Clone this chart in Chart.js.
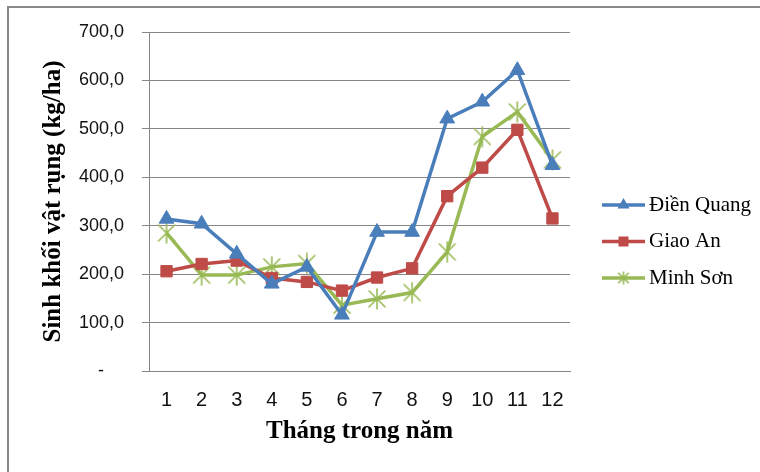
<!DOCTYPE html>
<html>
<head>
<meta charset="utf-8">
<script src="https://cdn.jsdelivr.net/npm/chart.js@4/dist/chart.umd.min.js"></script>
<style>
  html,body{margin:0;padding:0;background:#fff;}
  #wrap{width:760px;height:472px;}
</style>
</head>
<body>
<div id="wrap"><canvas id="c" width="760" height="472"></canvas></div>
<script>
const months = ['1','2','3','4','5','6','7','8','9','10','11','12'];
const dienQuang = [314, 304, 242, 180, 215, 116, 287, 287, 521, 556, 621, 425];
const giaoAn    = [206, 221, 228, 192, 184, 166, 193, 212, 361, 420, 498, 315];
const minhSon   = [285, 198, 198, 215, 222, 136, 149, 162, 246, 484, 535, 436];
const seriesNames = ['Điền Quang', 'Giao An', 'Minh Sơn'];
const yTicks = [0, 100, 200, 300, 400, 500, 600, 700];

const BLUE = '#4a7ebb', RED = '#be4b48', GREEN = '#98b954';
const SERIF = '"Liberation Serif", "Times New Roman", serif';
const SANS = '"Liberation Sans", Arial, sans-serif';

// asterisk marker: an X crossed by a vertical stroke
function starMarker(size, color){
  const cv = document.createElement('canvas');
  cv.width = size; cv.height = size;
  const g = cv.getContext('2d');
  const m = size/2, r = size/2 - 1;
  g.strokeStyle = color; g.lineWidth = 1.6; g.lineCap = 'round';
  g.beginPath();
  g.moveTo(m, m-r); g.lineTo(m, m+r);
  const d = r*0.8;
  g.moveTo(m-d, m-d); g.lineTo(m+d, m+d);
  g.moveTo(m+d, m-d); g.lineTo(m-d, m+d);
  g.stroke();
  return cv;
}
const starBig = starMarker(22, GREEN);
const starSmall = starMarker(14, GREEN);

// accounting style: zero shows as a dash, decimals with a comma
function fmt(v){ return v===0 ? '-    ' : v.toFixed(1).replace('.', ','); }

// gray frame around the whole figure
const framePlugin = {
  id:'frame',
  afterDraw(chart){
    const ctx = chart.ctx;
    ctx.save();
    ctx.strokeStyle = '#888'; ctx.lineWidth = 2;
    ctx.strokeRect(8, 7, 800, 520);
    ctx.restore();
  }
};

// legend on the right: line sample with marker, then the name
const legendPlugin = {
  id:'sideLegend',
  afterDraw(chart){
    const ctx = chart.ctx;
    ctx.save();
    chart.data.datasets.forEach((ds, i)=>{
      const y = 205 + i*36.5;
      const x0 = 602, x1 = 645, xm = (x0+x1)/2;
      ctx.strokeStyle = ds.borderColor; ctx.lineWidth = 3.5;
      ctx.beginPath(); ctx.moveTo(x0, y); ctx.lineTo(x1, y); ctx.stroke();
      ctx.fillStyle = ds.pointBackgroundColor;
      if(ds.pointStyle==='triangle'){
        const r = 7;
        ctx.beginPath();
        ctx.moveTo(xm, y - r);
        ctx.lineTo(xm + r*0.866, y + r*0.5);
        ctx.lineTo(xm - r*0.866, y + r*0.5);
        ctx.closePath(); ctx.fill();
      } else if(ds.pointStyle==='rect'){
        ctx.fillRect(xm-5, y-5, 10, 10);
      } else {
        ctx.drawImage(starSmall, xm-7, y-7);
      }
      ctx.fillStyle = '#000';
      ctx.font = '21px ' + SERIF;
      ctx.textBaseline = 'middle';
      ctx.textAlign = 'left';
      ctx.fillText(ds.label, 649, y);
    });
    ctx.restore();
  }
};

new Chart(document.getElementById('c'), {
  type:'line',
  data:{
    labels: months,
    datasets:[
      {label:seriesNames[0], data:dienQuang, borderColor:BLUE, backgroundColor:BLUE,
       pointBackgroundColor:BLUE, pointBorderColor:BLUE, pointStyle:'triangle', pointRadius:8.5, pointBorderWidth:1},
      {label:seriesNames[1], data:giaoAn, borderColor:RED, backgroundColor:RED,
       pointBackgroundColor:RED, pointBorderColor:RED, pointStyle:'rect', pointRadius:8, pointBorderWidth:1},
      {label:seriesNames[2], data:minhSon, borderColor:GREEN, backgroundColor:GREEN,
       pointBackgroundColor:GREEN, pointBorderColor:GREEN, pointStyle:starBig, pointRadius:11, pointBorderWidth:1}
    ].map(d=>Object.assign(d, {borderWidth:3.5, tension:0, fill:false}))
  },
  options:{
    responsive:false,
    animation:false,
    devicePixelRatio:1,
    layout:{padding:{top:32, right:190, left:0, bottom:0}},
    plugins:{legend:{display:false}, tooltip:{enabled:false}},
    scales:{
      x:{
        offset:true,
        grid:{display:false, drawTicks:false},
        border:{display:true, color:'#868686', width:1},
        ticks:{color:'#111', font:{family:SANS, size:20}, padding:17, maxRotation:0, autoSkip:false},
        title:{display:true, text:'Tháng trong năm', color:'#000',
               font:{family:SERIF, size:25, weight:'bold'}, padding:{top:0, bottom:25}},
        afterFit(s){ s.height = 101; }
      },
      y:{
        min:0, max:700,
        afterBuildTicks(s){ s.ticks = yTicks.map(v=>({value:v})); },
        grid:{color:'#868686', lineWidth:1, tickLength:7, drawTicks:true},
        border:{display:true, color:'#868686', width:1},
        ticks:{color:'#111', font:{family:SANS, size:18}, padding:18, callback:v=>fmt(v)},
        title:{display:true, text:'Sinh khối vật rụng (kg/ha)', color:'#000',
               font:{family:SERIF, size:25, weight:'bold'}, padding:{top:39, bottom:0}},
        afterFit(s){ s.width = 149; }
      }
    }
  },
  plugins:[legendPlugin, framePlugin]
});
</script>
</body>
</html>
